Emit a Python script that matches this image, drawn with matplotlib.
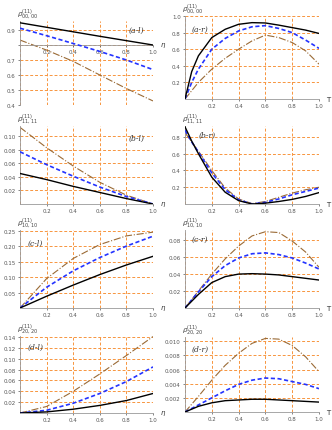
import numpy as np
import matplotlib
matplotlib.use("Agg")
import matplotlib.pyplot as plt

# x grids
eta = [0.0, 0.2, 0.4, 0.6, 0.8, 1.0]
T = [0.0, 0.05, 0.1, 0.2, 0.3, 0.4, 0.5, 0.6, 0.7, 0.8, 0.9, 1.0]

# (a-l) / (a-r)
al_black = [0.948, 0.918, 0.888, 0.858, 0.829, 0.800]
al_blue = [0.912, 0.862, 0.810, 0.757, 0.700, 0.636]
al_brown = [0.833, 0.766, 0.691, 0.600, 0.510, 0.427]
ar_black = [0.0, 0.33, 0.52, 0.74, 0.84, 0.90, 0.92, 0.916, 0.89, 0.86, 0.83, 0.79]
ar_blue = [0.0, 0.20, 0.36, 0.60, 0.73, 0.82, 0.87, 0.884, 0.85, 0.80, 0.71, 0.61]
ar_brown = [0.0, 0.10, 0.20, 0.36, 0.49, 0.60, 0.70, 0.77, 0.74, 0.68, 0.58, 0.42]

# (b-l) / (b-r)
bl_black = [0.045, 0.036, 0.026, 0.017, 0.008, 0.0]
bl_blue = [0.077, 0.058, 0.041, 0.025, 0.011, 0.0]
bl_brown = [0.113, 0.083, 0.056, 0.032, 0.013, 0.0]
br_black = [0.92, 0.75, 0.60, 0.32, 0.14, 0.04, 0.0, 0.01, 0.03, 0.055, 0.09, 0.136]
br_blue = [0.88, 0.74, 0.62, 0.37, 0.17, 0.05, 0.0, 0.02, 0.06, 0.11, 0.15, 0.19]
br_brown = [0.85, 0.74, 0.63, 0.40, 0.19, 0.06, 0.005, 0.03, 0.08, 0.13, 0.17, 0.20]

# (c-l) / (c-r)
cl_black = [0.0, 0.038, 0.074, 0.108, 0.139, 0.167]
cl_blue = [0.0, 0.067, 0.120, 0.163, 0.200, 0.232]
cl_brown = [0.0, 0.095, 0.160, 0.205, 0.233, 0.245]
cr_black = [0.0, 0.008, 0.016, 0.030, 0.037, 0.040, 0.0405, 0.040, 0.039, 0.037, 0.035, 0.033]
cr_blue = [0.0, 0.0095, 0.019, 0.037, 0.050, 0.059, 0.064, 0.065, 0.063, 0.059, 0.053, 0.046]
cr_brown = [0.0, 0.010, 0.020, 0.040, 0.058, 0.073, 0.085, 0.090, 0.089, 0.079, 0.066, 0.048]

# (d-l) / (d-r)
dl_black = [0.0, 0.002, 0.007, 0.014, 0.023, 0.036]
dl_blue = [0.0, 0.005, 0.018, 0.036, 0.058, 0.085]
dl_brown = [0.0, 0.012, 0.040, 0.072, 0.106, 0.141]
dr_black = [0.0, 0.0004, 0.0008, 0.0013, 0.0016, 0.0017, 0.0018, 0.0018, 0.0017, 0.0016, 0.0015, 0.0014]
dr_blue = [0.0, 0.0005, 0.0010, 0.0020, 0.0030, 0.0039, 0.0045, 0.0048, 0.0047, 0.0043, 0.0039, 0.0033]
dr_brown = [0.0, 0.0011, 0.0022, 0.0045, 0.0066, 0.0083, 0.0097, 0.0104, 0.0103, 0.0094, 0.0078, 0.0057]

x_ticks = [0.2, 0.4, 0.6, 0.8, 1.0]

GRID = "#f7953f"
BROWN = "#9a6a35"
BLUE = "#2433ff"

fig = plt.figure(figsize=(3.32, 4.31), dpi=100)

L0, LW = 20 / 332, 133 / 332
R0, RW = 185 / 332, 134 / 332


def rect(left, w, bottom_px, top_px):
    return [left, (431 - bottom_px) / 431, w, (bottom_px - top_px) / 431]


panels = [
    # rect, x, curves, ylim, yticks, ylabel, tag, tag pos, xlabel, x-axis height, decimals
    (rect(L0, LW, 106, 22), eta, (al_black, al_blue, al_brown), (0.4, 0.96),
     [0.4, 0.5, 0.6, 0.7, 0.8, 0.9], r"$\rho^{(11)}_{00,00}$", "(a-l)", (0.82, 0.89), r"$\eta$", 0.8, 1),
    (rect(R0, RW, 100, 17), T, (ar_black, ar_blue, ar_brown), (0, 1.0),
     [0.2, 0.4, 0.6, 0.8, 1.0], r"$\rho^{(11)}_{00,00}$", "(a-r)", (0.05, 0.82), "T", 0, 1),
    (rect(L0, LW, 205, 127), eta, (bl_black, bl_blue, bl_brown), (0, 0.115),
     [0.02, 0.04, 0.06, 0.08, 0.10], r"$\rho^{(11)}_{11,11}$", "(b-l)", (0.82, 0.094), r"$\eta$", 0, 2),
    (rect(R0, RW, 205, 127), T, (br_black, br_blue, br_brown), (0, 0.93),
     [0.2, 0.4, 0.6, 0.8], r"$\rho^{(11)}_{11,11}$", "(b-r)", (0.1, 0.8), "T", 0, 1),
    (rect(L0, LW, 309, 231), eta, (cl_black, cl_blue, cl_brown), (0, 0.252),
     [0.05, 0.10, 0.15, 0.20, 0.25], r"$\rho^{(11)}_{10,10}$", "(c-l)", (0.06, 0.205), r"$\eta$", 0, 2),
    (rect(R0, RW, 309, 231), T, (cr_black, cr_blue, cr_brown), (0, 0.092),
     [0.02, 0.04, 0.06, 0.08], r"$\rho^{(11)}_{10,10}$", "(c-r)", (0.05, 0.079), "T", 0, 2),
    (rect(L0, LW, 414, 337), eta, (dl_black, dl_blue, dl_brown), (0, 0.142),
     [0.02, 0.04, 0.06, 0.08, 0.10, 0.12, 0.14], r"$\rho^{(11)}_{20,20}$", "(d-l)", (0.06, 0.118), r"$\eta$", 0, 2),
    (rect(R0, RW, 413, 338), T, (dr_black, dr_blue, dr_brown), (0, 0.0106),
     [0.002, 0.004, 0.006, 0.008, 0.010], r"$\rho^{(11)}_{20,20}$", "(d-r)", (0.05, 0.0086), "T", 0, 3),
]

for r, xs, (k, b, br), ylim, yt, ylab, tag, tpos, xlab, x0, dec in panels:
    ax = fig.add_axes(r)
    for v in [0.0] + x_ticks:
        ax.axvline(v, color=GRID, lw=0.7, ls=(0, (3, 2)), zorder=0)
    for v in yt:
        ax.axhline(v, color=GRID, lw=0.7, ls=(0, (3, 2)), zorder=0)
    ax.plot(xs, br, color=BROWN, lw=0.8, ls="-.", zorder=2)
    ax.plot(xs, b, color=BLUE, lw=1.2, ls=(0, (2.5, 1.5)), zorder=3)
    ax.plot(xs, k, color="black", lw=1.0, zorder=4)
    ax.set_xlim(0, 1.0)
    ax.set_ylim(*ylim)
    ax.set_xticks(x_ticks)
    ax.set_xticklabels(["%.1f" % v for v in x_ticks])
    ax.set_yticks(yt)
    # no label where the x axis crosses
    ax.set_yticklabels(["" if (x0 and abs(v - x0) < 1e-9) else "%.*f" % (dec, v) for v in yt])
    for s in ["top", "right"]:
        ax.spines[s].set_visible(False)
    ax.spines["bottom"].set_position(("data", x0 if x0 else ylim[0]))
    for s in ["left", "bottom"]:
        ax.spines[s].set_color("#999999")
        ax.spines[s].set_linewidth(0.6)
    ax.tick_params(labelsize=4, colors="#555555", length=1.5, width=0.5, pad=1.5)
    ax.text(-0.02, 1.0, ylab, transform=ax.transAxes, fontsize=5, color="#444444",
            ha="left", va="bottom")
    ax.text(tpos[0], tpos[1], tag, fontsize=5.5, family="DejaVu Serif",
            style="italic", color="#333333")
    ax.annotate(xlab, xy=(1.0, x0 if x0 else ylim[0]), xycoords="data",
                xytext=(5, 0), textcoords="offset points", fontsize=5,
                va="center", ha="left", color="#333333")

fig.savefig("out.png", dpi=100)
